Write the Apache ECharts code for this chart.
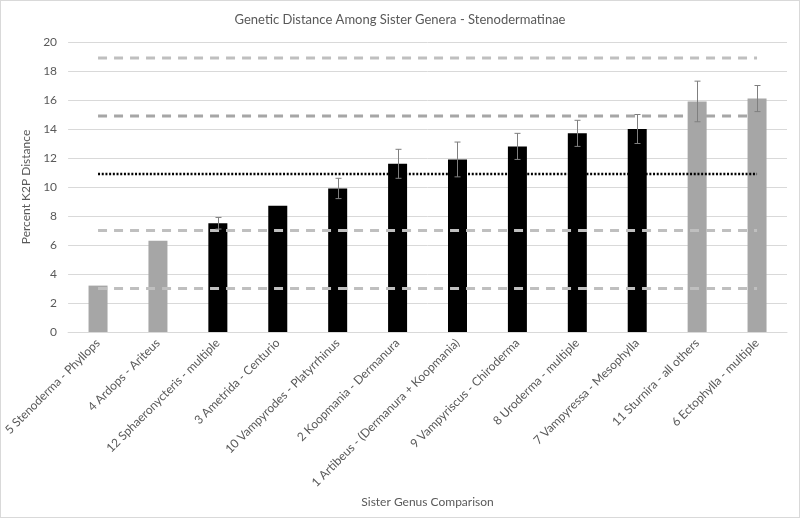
<!DOCTYPE html>
<html>
<head>
<meta charset="utf-8">
<script src="https://cdn.jsdelivr.net/npm/echarts@6/dist/echarts.min.js"></script>
<style>
  html, body { margin: 0; padding: 0; background: #fff; }
  #main { width: 798px; height: 516px; border: 1px solid #d9d9d9; }
</style>
</head>
<body>
<div id="main"></div>
<script>
// sister genus pairs, in plotted order
var categories = [
  '5 Stenoderma - Phyllops',
  '4 Ardops - Ariteus',
  '12 Sphaeronycteris - multiple',
  '3 Ametrida - Centurio',
  '10 Vampyrodes - Platyrrhinus',
  '2 Koopmania - Dermanura',
  '1 Artibeus - (Dermanura + Koopmania)',
  '9 Vampyriscus - Chiroderma',
  '8 Uroderma - multiple',
  '7 Vampyressa - Mesophylla',
  '11 Sturnira - all others',
  '6 Ectophylla - multiple'
];
var distance = [3.2, 6.3, 7.5, 8.7, 9.9, 11.6, 11.9, 12.8, 13.7, 14.0, 15.9, 16.1];
// +/- error, null where there is no error bar
var errors = [null, null, 0.4, null, 0.7, 1.0, 1.2, 0.9, 0.9, 1.0, 1.4, 0.9];
// pairs outside the 1 SD band (drawn grey)
var outside = [true, true, false, false, false, false, false, false, false, false, true, true];

// reference lines: mean (dotted) and +/- 1, 2 SD (dashed)
var meanLine = 10.9;
var sdLines = [3.0, 7.0, 14.9, 18.9];
var yTicks = [0, 2, 4, 6, 8, 10, 12, 14, 16, 18, 20];

var txt = '#595959';
var font = 'Lato';

function flat(v) {
  return categories.map(function () { return v; });
}

var barData = distance.map(function (v, i) {
  return { value: v, itemStyle: { color: outside[i] ? '#a6a6a6' : '#000000' } };
});

var errData = [];
distance.forEach(function (v, i) {
  if (errors[i] != null) errData.push([i, v - errors[i], v + errors[i]]);
});

var sdColors = ['#bfbfbf', '#bfbfbf', '#a6a6a6', '#bfbfbf'];
var refSeries = sdLines.map(function (v, k) {
  return {
    type: 'line',
    data: flat(v),
    symbol: 'none',
    silent: true,
    z: 5,
    lineStyle: { color: sdColors[k], width: 3, type: [9, 7] }
  };
});
refSeries.push({
  type: 'line',
  data: flat(meanLine),
  symbol: 'none',
  silent: true,
  z: 5,
  lineStyle: { color: '#000', width: 2.5, type: [2, 1.7] }
});

var myChart = echarts.init(document.getElementById('main'));
myChart.setOption({
  animation: false,
  textStyle: { fontFamily: font },
  title: {
    text: 'Genetic Distance Among Sister Genera - Stenodermatinae',
    left: 'center',
    top: 7,
    textStyle: { fontFamily: font, fontSize: 13, fontWeight: 'normal', color: txt }
  },
  grid: { left: 62, right: 12, top: 41, bottom: 185 },
  xAxis: {
    type: 'category',
    data: categories,
    name: 'Sister Genus Comparison',
    nameLocation: 'middle',
    nameGap: 157,
    nameTextStyle: { fontFamily: font, fontSize: 12, color: txt },
    axisLine: { lineStyle: { color: '#d9d9d9' } },
    axisTick: { show: false },
    axisLabel: { rotate: 45, interval: 0, margin: 9, fontFamily: font, fontSize: 12, color: txt }
  },
  yAxis: {
    type: 'value',
    min: yTicks[0],
    max: yTicks[yTicks.length - 1],
    interval: 2,
    name: 'Percent K2P Distance',
    nameLocation: 'middle',
    nameGap: 36,
    nameTextStyle: { fontFamily: font, fontSize: 12, color: txt },
    axisLine: { show: false },
    axisTick: { show: false },
    axisLabel: { margin: 11, fontFamily: font, fontSize: 12, color: txt },
    splitLine: { lineStyle: { color: '#d9d9d9' } }
  },
  series: [
    {
      type: 'bar',
      data: barData,
      barWidth: 19,
      z: 2
    }
  ].concat(refSeries).concat([
    {
      type: 'custom',
      data: errData,
      z: 10,
      renderItem: function (params, api) {
        var lo = api.coord([api.value(0), api.value(1)]);
        var hi = api.coord([api.value(0), api.value(2)]);
        var x = Math.round(lo[0]) + 0.5;
        var cap = 3;
        var st = { stroke: '#7f7f7f', lineWidth: 1 };
        return {
          type: 'group',
          children: [
            { type: 'line', shape: { x1: x, y1: hi[1], x2: x, y2: lo[1] }, style: st },
            { type: 'line', shape: { x1: x - cap, y1: hi[1], x2: x + cap, y2: hi[1] }, style: st },
            { type: 'line', shape: { x1: x - cap, y1: lo[1], x2: x + cap, y2: lo[1] }, style: st }
          ]
        };
      }
    }
  ])
});
</script>
</body>
</html>
